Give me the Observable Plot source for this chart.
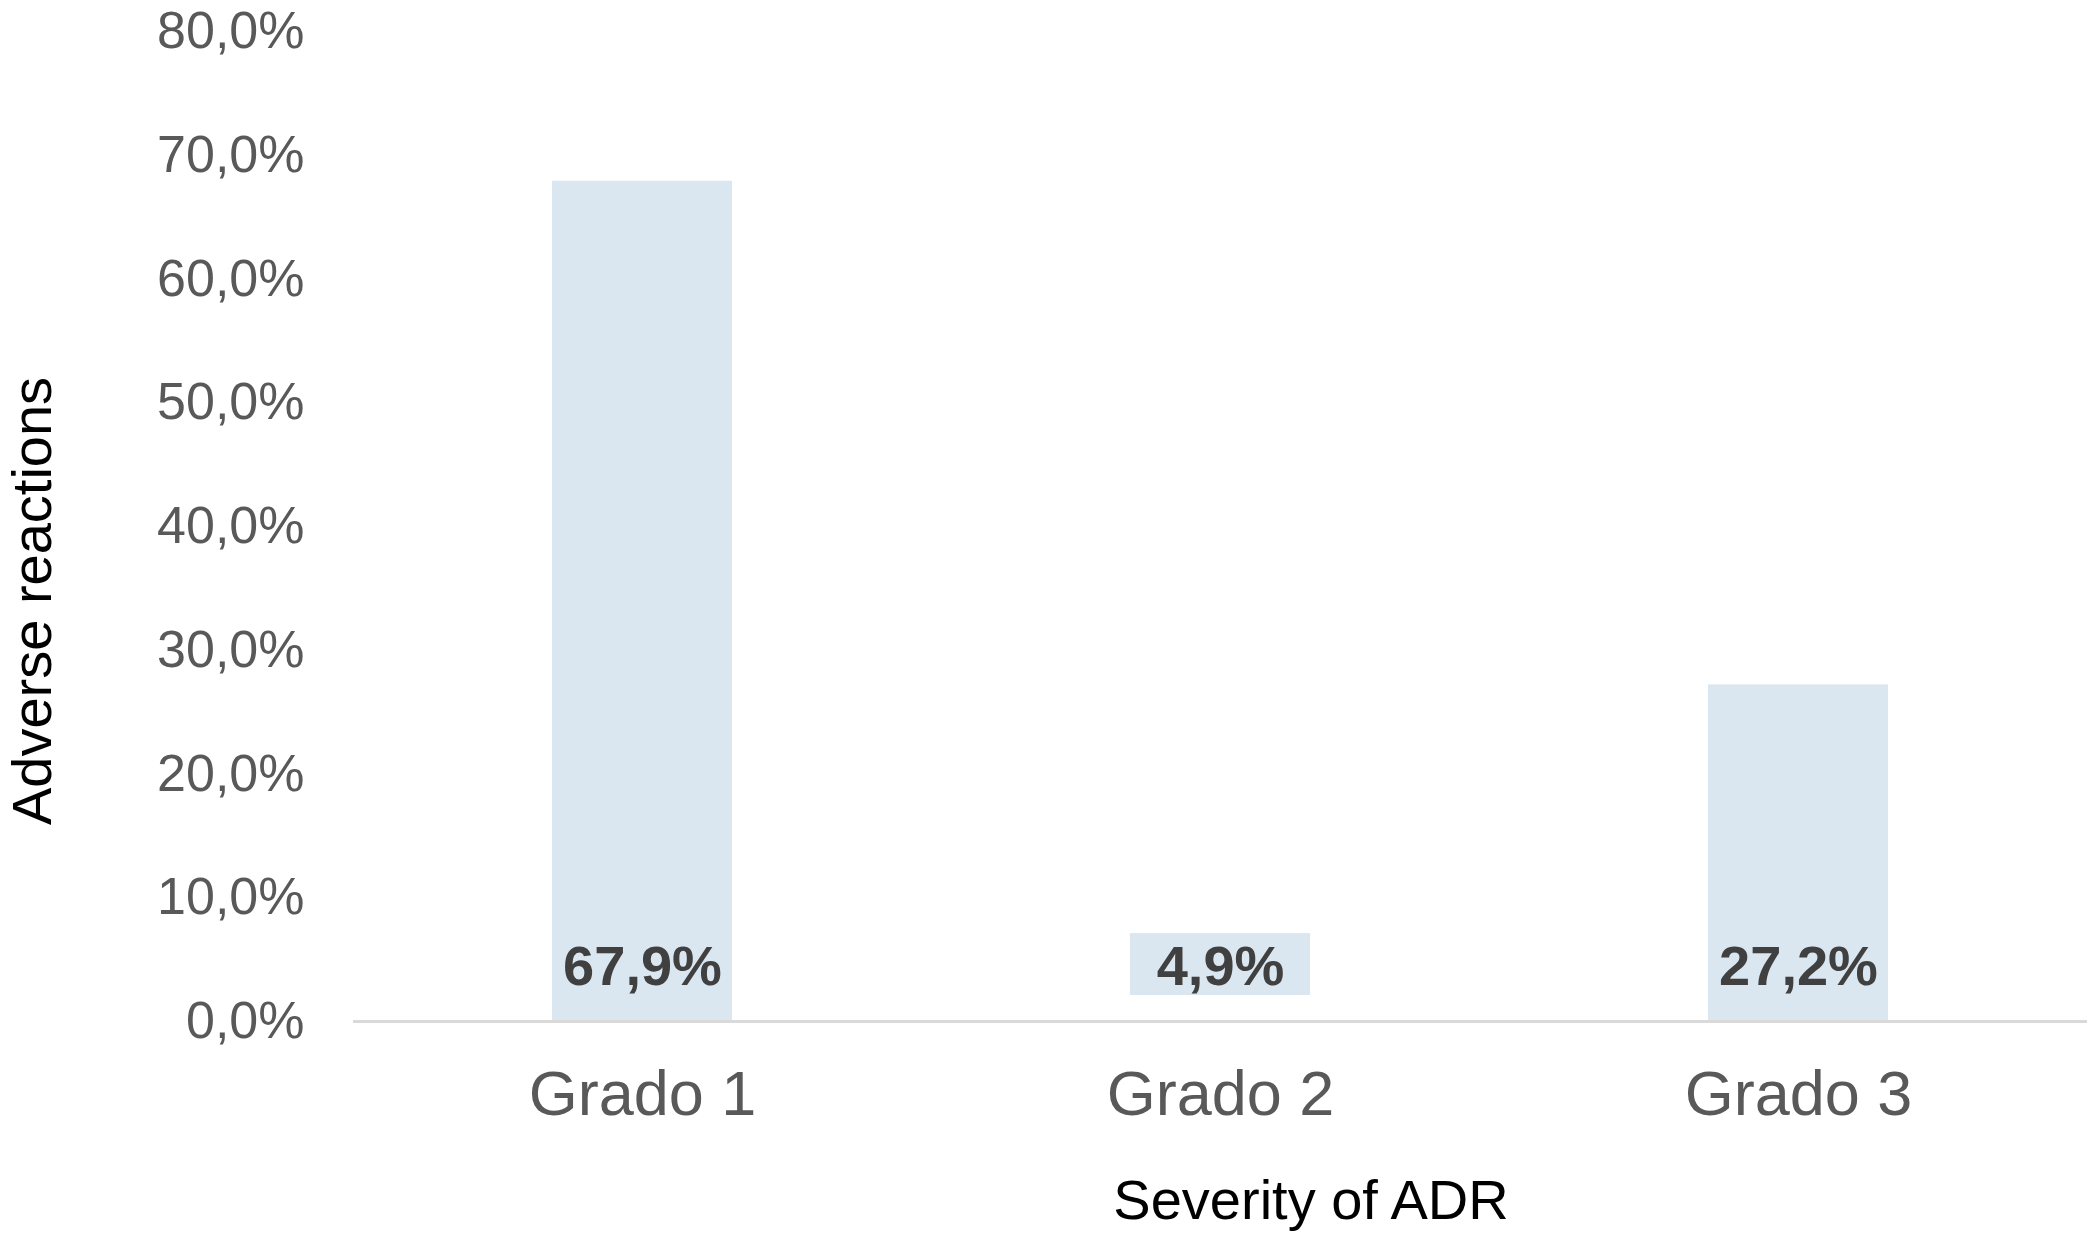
<!DOCTYPE html>
<html>
<head>
<meta charset="utf-8">
<script src="https://cdn.jsdelivr.net/npm/d3@7"></script>
<script src="https://cdn.jsdelivr.net/npm/@observablehq/plot@0.6"></script>
<style>
  html, body { margin: 0; padding: 0; background: #ffffff; }
  #chart svg { display: block; }
</style>
</head>
<body>
<div id="chart"></div>
<script>
// ---- data ----
const categories = ["Grado 1", "Grado 2", "Grado 3"];
const values = [67.9, 4.9, 27.2];
const yTicks = [0, 10, 20, 30, 40, 50, 60, 70, 80];
const xTitle = "Severity of ADR";
const yTitle = "Adverse reactions";

// ---- layout ----
const W = 2091, H = 1237;
const FONT = "'Liberation Sans', Arial, sans-serif";
const labelY = 4.4;          // data-label position (inside base)
const boxLo = 2.1, boxHi = 7.1; // data-label box extent

const data = categories.map((c, i) => ({cat: c, value: values[i]}));
const fmt = v => v.toFixed(1).replace(".", ",") + "%";

const chart = Plot.plot({
  width: W,
  height: H,
  marginLeft: 353,
  marginRight: 4,
  marginTop: 31,
  marginBottom: 216,
  style: {fontFamily: FONT, background: "#ffffff", color: "#595959"},
  x: {domain: categories, paddingInner: 0.689, paddingOuter: 0.3445},
  y: {domain: [0, 80]},
  marks: [
    Plot.barY(data, {
      x: "cat",
      y1: d => d.value > boxHi ? 0 : boxLo,
      y2: d => Math.max(d.value, boxHi),
      fill: "#dae6f0"
    }),
    Plot.ruleY([0], {stroke: "#d9d9d9", strokeWidth: 3}),
    Plot.axisY({ticks: yTicks, tickFormat: fmt, tickSize: 0, tickPadding: 49, fontSize: 52, label: null}),
    Plot.axisX({tickSize: 0, tickPadding: 49, fontSize: 63, label: null}),
    Plot.text(data, {
      x: "cat",
      y: () => labelY,
      text: d => fmt(d.value),
      fontSize: 56,
      fontWeight: "bold",
      fill: "#404040",
      lineAnchor: "middle"
    })
  ]
});

const svg = d3.select(chart);
svg.append("text")
  .attr("x", 1311).attr("y", 1219)
  .attr("text-anchor", "middle")
  .attr("font-family", FONT).attr("font-size", 56).attr("fill", "#000000")
  .text(xTitle);
svg.append("text")
  .attr("transform", "translate(51,601) rotate(-90)")
  .attr("text-anchor", "middle")
  .attr("font-family", FONT).attr("font-size", 56).attr("fill", "#000000")
  .text(yTitle);

document.getElementById("chart").appendChild(chart);
</script>
</body>
</html>
